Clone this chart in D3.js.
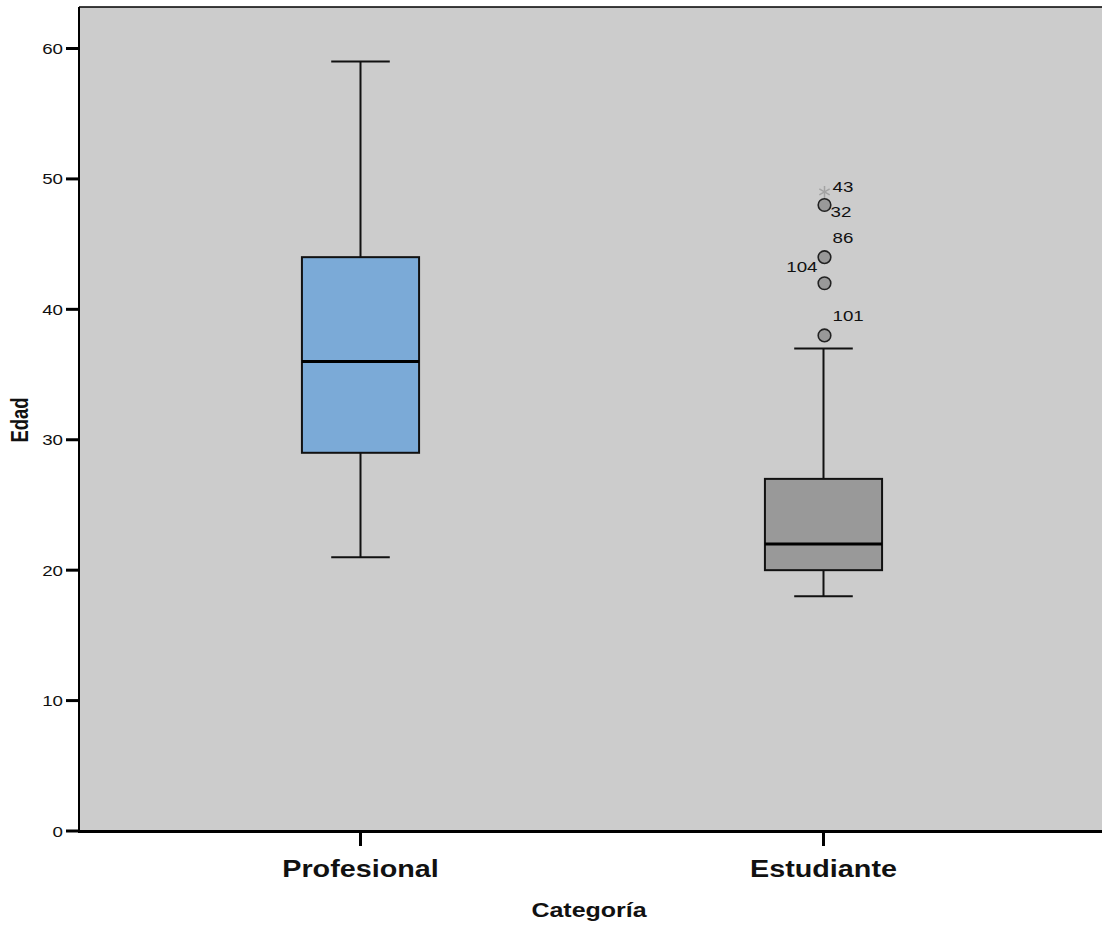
<!DOCTYPE html>
<html>
<head>
<meta charset="utf-8">
<script src="https://cdn.jsdelivr.net/npm/d3@7"></script>
<style>
  html, body { margin: 0; padding: 0; background: #ffffff; }
  svg { display: block; font-family: "Liberation Sans", Arial, sans-serif; }
</style>
</head>
<body>
<svg id="chart" width="1102" height="926"></svg>
<script>
// ---- data ----
const categories = ["Profesional", "Estudiante"];
const whiskerLow = [21, 18];
const q1 = [29, 20];
const median = [36, 22];
const q3 = [44, 27];
const whiskerHigh = [59, 37];
const boxColors = ["#7BAAD7", "#999999"];
const yTicks = [0, 10, 20, 30, 40, 50, 60];
// outliers (Estudiante): value, case id, label placement keyword
const outlierCategory = ["Estudiante", "Estudiante", "Estudiante", "Estudiante"];
const outlierValues = [38, 42, 44, 48];
const outlierIds = ["101", "104", "86", "32"];
const outlierLabelPos = ["ne", "nw", "ne", "se"];
const extremeCategory = ["Estudiante"];
const extremeValues = [49];
const extremeIds = ["43"];
const extremeLabelPos = ["e"];
const xTitle = "Categoría";
const yTitle = "Edad";

// ---- layout ----
const svg = d3.select("#chart");
const plot = { left: 79, top: 7, right: 1105, bottom: 831 };
const SX = 1.25; // horizontal text stretch

const x = d3.scalePoint().domain(categories).range([plot.left, plot.right]).padding(0.608);
const y = d3.scaleLinear().domain([0, 60]).range([plot.bottom, 48.5]);
const boxW = x.step() * 0.253;
const capW = boxW / 2;

// background
svg.append("rect")
  .attr("x", plot.left).attr("y", plot.top)
  .attr("width", plot.right - plot.left).attr("height", plot.bottom - plot.top)
  .attr("fill", "#cccccc");

// frame lines (top, left)
svg.append("line").attr("x1", plot.left).attr("x2", plot.right)
  .attr("y1", plot.top).attr("y2", plot.top)
  .attr("stroke", "#000").attr("stroke-width", 1.5);
svg.append("line").attr("x1", plot.left).attr("x2", plot.left)
  .attr("y1", plot.top).attr("y2", plot.bottom)
  .attr("stroke", "#000").attr("stroke-width", 2);

// y axis ticks + labels
const yAxis = svg.append("g");
yTicks.forEach(t => {
  yAxis.append("line").attr("x1", 66).attr("x2", plot.left)
    .attr("y1", y(t)).attr("y2", y(t))
    .attr("stroke", "#000").attr("stroke-width", 3);
  yAxis.append("text")
    .attr("transform", `translate(63,${y(t) + 5.5}) scale(${SX},1)`)
    .attr("text-anchor", "end")
    .attr("font-size", 15)
    .attr("fill", "#111")
    .text(t);
});

// x axis line + ticks + labels
svg.append("line").attr("x1", plot.left - 1).attr("x2", plot.right)
  .attr("y1", plot.bottom + 0.5).attr("y2", plot.bottom + 0.5)
  .attr("stroke", "#000").attr("stroke-width", 3);
categories.forEach(c => {
  svg.append("line").attr("x1", x(c)).attr("x2", x(c))
    .attr("y1", plot.bottom).attr("y2", 846)
    .attr("stroke", "#000").attr("stroke-width", 3);
  svg.append("text")
    .attr("transform", `translate(${x(c)},877) scale(${SX},1)`)
    .attr("text-anchor", "middle")
    .attr("font-size", 23).attr("font-weight", "bold")
    .attr("fill", "#111")
    .text(c);
});

// axis titles
svg.append("text")
  .attr("transform", `translate(589,917) scale(${SX},1)`)
  .attr("text-anchor", "middle")
  .attr("font-size", 20).attr("font-weight", "bold")
  .attr("fill", "#111")
  .text(xTitle);
svg.append("text")
  .attr("transform", `translate(28,420) scale(${SX},1) rotate(-90)`)
  .attr("text-anchor", "middle")
  .attr("font-size", 18.5).attr("font-weight", "bold")
  .attr("fill", "#111")
  .text(yTitle);

// boxes
const g = svg.append("g");
categories.forEach((c, i) => {
  const cx = x(c);
  // whiskers
  g.append("line").attr("x1", cx).attr("x2", cx)
    .attr("y1", y(whiskerHigh[i])).attr("y2", y(q3[i]))
    .attr("stroke", "#111").attr("stroke-width", 2);
  g.append("line").attr("x1", cx).attr("x2", cx)
    .attr("y1", y(q1[i])).attr("y2", y(whiskerLow[i]))
    .attr("stroke", "#111").attr("stroke-width", 2);
  g.append("line").attr("x1", cx - capW / 2).attr("x2", cx + capW / 2)
    .attr("y1", y(whiskerHigh[i])).attr("y2", y(whiskerHigh[i]))
    .attr("stroke", "#111").attr("stroke-width", 2);
  g.append("line").attr("x1", cx - capW / 2).attr("x2", cx + capW / 2)
    .attr("y1", y(whiskerLow[i])).attr("y2", y(whiskerLow[i]))
    .attr("stroke", "#111").attr("stroke-width", 2);
  // box
  g.append("rect")
    .attr("x", cx - boxW / 2).attr("y", y(q3[i]))
    .attr("width", boxW).attr("height", y(q1[i]) - y(q3[i]))
    .attr("fill", boxColors[i]).attr("stroke", "#111").attr("stroke-width", 2);
  // median
  g.append("line").attr("x1", cx - boxW / 2).attr("x2", cx + boxW / 2)
    .attr("y1", y(median[i])).attr("y2", y(median[i]))
    .attr("stroke", "#000").attr("stroke-width", 3);
});

// label placement helper
function labelAttrs(px, py, pos) {
  switch (pos) {
    case "ne": return { x: px + 8, y: py - 14, anchor: "start" };
    case "nw": return { x: px - 7, y: py - 11, anchor: "end" };
    case "se": return { x: px + 6, y: py + 12, anchor: "start" };
    default:   return { x: px + 8, y: py + 0.5, anchor: "start" };
  }
}

// outliers
outlierValues.forEach((v, i) => {
  const px = x(outlierCategory[i]) + 1, py = y(v);
  g.append("circle").attr("cx", px).attr("cy", py).attr("r", 6.3)
    .attr("fill", "#999999").attr("stroke", "#222").attr("stroke-width", 1.6);
  const la = labelAttrs(px, py, outlierLabelPos[i]);
  g.append("text")
    .attr("transform", `translate(${la.x},${la.y}) scale(${SX},1)`)
    .attr("text-anchor", la.anchor)
    .attr("font-size", 15).attr("fill", "#111")
    .text(outlierIds[i]);
});

// extremes (asterisk)
extremeValues.forEach((v, i) => {
  const px = x(extremeCategory[i]) + 1, py = y(v);
  const r = 6;
  [90, 30, 150].forEach(a => {
    const rad = a * Math.PI / 180;
    g.append("line")
      .attr("x1", px - r * Math.cos(rad)).attr("y1", py - r * Math.sin(rad))
      .attr("x2", px + r * Math.cos(rad)).attr("y2", py + r * Math.sin(rad))
      .attr("stroke", "#a3a3a3").attr("stroke-width", 1.5);
  });
  const la = labelAttrs(px, py, extremeLabelPos[i]);
  g.append("text")
    .attr("transform", `translate(${la.x},${la.y}) scale(${SX},1)`)
    .attr("text-anchor", la.anchor)
    .attr("font-size", 15).attr("fill", "#111")
    .text(extremeIds[i]);
});
</script>
</body>
</html>
